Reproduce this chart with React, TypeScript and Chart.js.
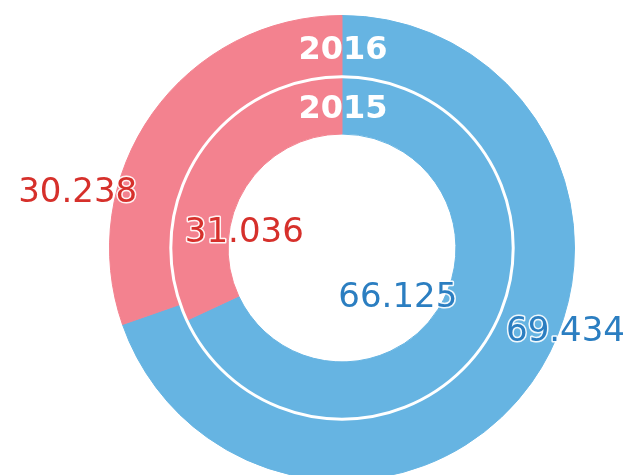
import { useEffect, useRef } from 'react';
import { Chart, registerables } from 'chart.js';

Chart.register(...registerables);

// ---- data ----
const years = ['2016', '2015'];
const categories = ['Blue', 'Red'];
const values2016 = [69.434, 30.238];
const values2015 = [66.125, 31.036];

// ---- styles ----
const sliceColors = ['#66B4E2', '#F3828F'];
const textColors = ['#2B7EC1', '#D6302B'];

// value label placement per ring / slice: angle in degrees clockwise from top,
// radius as a fraction of the chart's outer radius
const valuePlacement = [
  [
    { angle: 110.6, r: 1.027 },
    { angle: 281.7, r: 1.161 },
  ],
  [
    { angle: 131.8, r: 0.322 },
    { angle: 278.7, r: 0.425 },
  ],
];

const ringLabels = {
  id: 'ringLabels',
  afterDatasetsDraw(chart: any) {
    const ctx = chart.ctx as CanvasRenderingContext2D;
    const rings = [chart.getDatasetMeta(0), chart.getDatasetMeta(1)];
    const a0 = rings[0].data[0] as any;
    const a1 = rings[1].data[0] as any;
    const cx = a0.x;
    const cy = a0.y;
    const R = a0.outerRadius;

    ctx.save();
    // white separator between rings
    ctx.beginPath();
    ctx.arc(cx, cy, a1.outerRadius, 0, Math.PI * 2);
    ctx.strokeStyle = '#ffffff';
    ctx.lineWidth = 3;
    ctx.stroke();

    // year labels at the top of each ring
    ctx.font = 'bold 32px "DejaVu Sans"';
    ctx.textAlign = 'center';
    ctx.textBaseline = 'middle';
    ctx.fillStyle = '#ffffff';
    [a0, a1].forEach((arc: any, i: number) => {
      const r = arc.innerRadius + 0.43 * (arc.outerRadius - arc.innerRadius);
      ctx.fillText(years[i], cx + 1, cy - r);
    });

    // value labels
    ctx.font = '34px "DejaVu Sans"';
    const sets = [values2016, values2015];
    sets.forEach((vals, di) => {
      vals.forEach((v, si) => {
        const p = valuePlacement[di][si];
        const th = (p.angle * Math.PI) / 180;
        const x = cx + R * p.r * Math.sin(th);
        const y = cy - R * p.r * Math.cos(th);
        const txt = v.toFixed(3);
        ctx.lineJoin = 'round';
        ctx.strokeStyle = 'rgba(255,255,255,0.9)';
        ctx.lineWidth = 3;
        ctx.strokeText(txt, x, y);
        ctx.fillStyle = textColors[si];
        ctx.fillText(txt, x, y);
      });
    });
    ctx.restore();
  },
};

export default function App() {
  const ref = useRef<HTMLCanvasElement | null>(null);

  useEffect(() => {
    if (!ref.current) return;
    const chart = new Chart(ref.current, {
      type: 'doughnut',
      data: {
        labels: categories,
        datasets: [
          {
            label: years[0],
            data: values2016,
            backgroundColor: sliceColors,
            borderColor: sliceColors,
            borderWidth: 1,
            weight: 1.07,
          },
          {
            label: years[1],
            data: values2015,
            backgroundColor: sliceColors,
            borderColor: sliceColors,
            borderWidth: 1,
            weight: 1,
          },
        ],
      },
      options: {
        responsive: false,
        animation: false,
        cutout: '49%',
        layout: { padding: { left: 109, right: 55, top: 15, bottom: 9 } },
        plugins: {
          legend: { display: false },
          tooltip: { enabled: false },
        },
      },
      plugins: [ringLabels],
    } as any);
    return () => chart.destroy();
  }, []);

  return (
    <div
      style={{
        position: 'fixed',
        left: 0,
        top: 0,
        width: 630,
        height: 475,
        overflow: 'hidden',
        background: '#ffffff',
      }}
    >
      <canvas ref={ref} width={630} height={490} style={{ display: 'block' }} />
    </div>
  );
}
